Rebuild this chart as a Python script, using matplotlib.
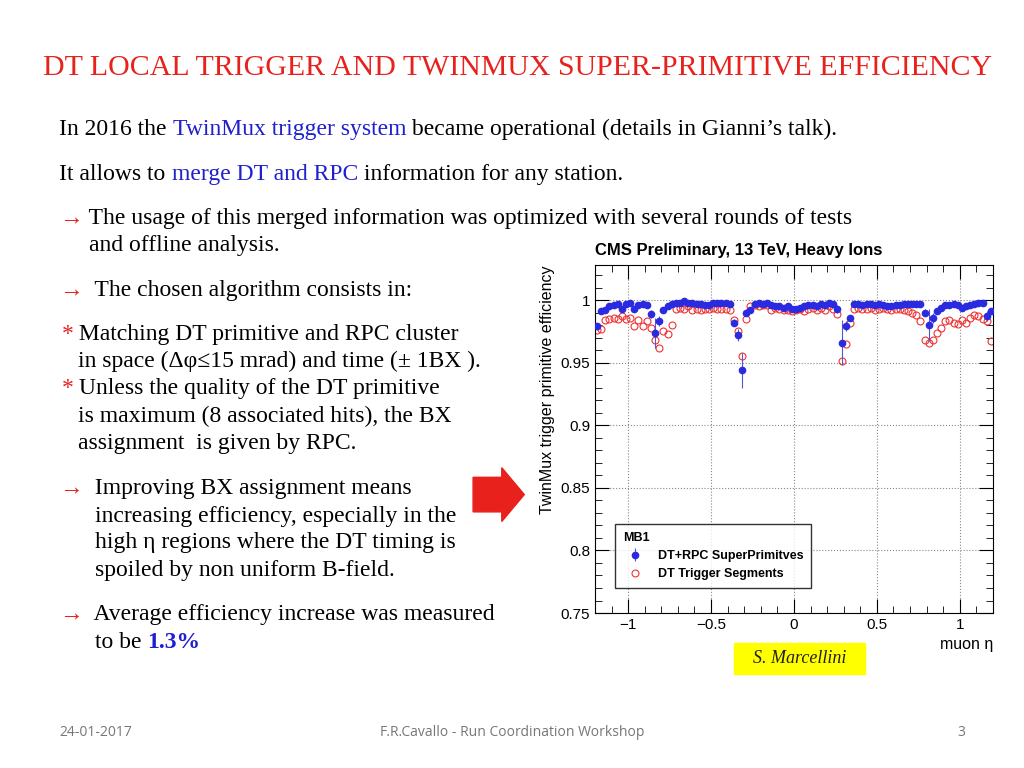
import matplotlib
matplotlib.use("Agg")
import matplotlib.pyplot as plt
from matplotlib.patches import FancyArrow, Rectangle
from matplotlib.ticker import MultipleLocator, FixedLocator
from matplotlib.offsetbox import TextArea, HPacker, AnchoredOffsetbox

eta = [-1.1875,-1.1625,-1.1375,-1.1125,-1.0875,-1.0625,-1.0375,-1.0125,-0.9875,-0.9625,
       -0.9375,-0.9125,-0.8875,-0.8625,-0.8375,-0.8125,-0.7875,-0.7625,-0.7375,-0.7125,
       -0.6875,-0.6625,-0.6375,-0.6125,-0.5875,-0.5625,-0.5375,-0.5125,-0.4875,-0.4625,
       -0.4375,-0.4125,-0.3875,-0.3625,-0.3375,-0.3125,-0.2875,-0.2625,-0.2375,-0.2125,
       -0.1875,-0.1625,-0.1375,-0.1125,-0.0875,-0.0625,-0.0375,-0.0125,0.0125,0.0375,
       0.0625,0.0875,0.1125,0.1375,0.1625,0.1875,0.2125,0.2375,0.2625,0.2875,
       0.3125,0.3375,0.3625,0.3875,0.4125,0.4375,0.4625,0.4875,0.5125,0.5375,
       0.5625,0.5875,0.6125,0.6375,0.6625,0.6875,0.7125,0.7375,0.7625,0.7875,
       0.8125,0.8375,0.8625,0.8875,0.9125,0.9375,0.9625,0.9875,1.0125,1.0375,
       1.0625,1.0875,1.1125,1.1375,1.1625,1.1875]

dtrpc = [0.979,0.991,0.992,0.995,0.996,0.997,0.993,0.997,0.998,0.993,
         0.996,0.997,0.996,0.989,0.974,0.983,0.992,0.995,0.997,0.998,
         0.998,0.999,0.998,0.998,0.997,0.997,0.996,0.996,0.998,0.998,
         0.998,0.998,0.997,0.982,0.972,0.944,0.990,0.992,0.997,0.998,
         0.997,0.998,0.996,0.995,0.995,0.994,0.995,0.993,0.993,0.994,
         0.995,0.996,0.996,0.995,0.997,0.996,0.998,0.997,0.993,0.966,
         0.979,0.986,0.997,0.997,0.996,0.997,0.997,0.996,0.997,0.996,
         0.995,0.995,0.996,0.996,0.997,0.997,0.997,0.997,0.997,0.990,
         0.980,0.986,0.991,0.994,0.996,0.996,0.997,0.996,0.994,0.995,
         0.996,0.997,0.998,0.998,0.987,0.991]
dtrpc_err = [0.003,0,0,0,0,0,0,0,0,0, 0,0,0,0.003,0.012,0.004,0,0,0,0,
             0,0,0,0,0,0,0,0,0,0, 0,0,0,0.003,0.005,0.014,0.003,0,0,0,
             0,0,0,0,0,0,0,0,0,0, 0,0,0,0,0,0,0,0,0.003,0.018,
             0.004,0.002,0,0,0,0,0,0,0,0, 0,0,0,0,0,0,0,0,0,0.003,
             0.013,0.004,0,0,0,0,0,0,0,0, 0,0,0,0,0.004,0.002]

dtseg = [0.976,0.977,0.984,0.985,0.986,0.985,0.987,0.985,0.986,0.979,
         0.984,0.979,0.983,0.978,0.968,0.962,0.975,0.973,0.980,0.993,
         0.994,0.993,0.995,0.992,0.993,0.992,0.993,0.993,0.994,0.993,
         0.993,0.993,0.992,0.984,0.975,0.955,0.985,0.995,0.996,0.995,
         0.996,0.996,0.992,0.994,0.993,0.992,0.992,0.991,0.992,0.993,
         0.991,0.993,0.994,0.992,0.994,0.992,0.995,0.993,0.989,0.951,
         0.965,0.982,0.993,0.994,0.993,0.993,0.994,0.992,0.993,0.994,
         0.993,0.992,0.993,0.993,0.992,0.991,0.990,0.988,0.983,0.968,
         0.966,0.968,0.974,0.978,0.983,0.984,0.982,0.981,0.984,0.982,
         0.986,0.988,0.987,0.985,0.983,0.967]

yticks = [0.75, 0.8, 0.85, 0.9, 0.95, 1.0]
yticklabels = ["0.75", "0.8", "0.85", "0.9", "0.95", "1"]
xticks = [-1, -0.5, 0, 0.5, 1]
xticklabels = ["\u22121", "\u22120.5", "0", "0.5", "1"]

fig = plt.figure(figsize=(10.24, 7.68), dpi=100)
serif = "Liberation Serif"
sans = "Liberation Sans"
red = "#e8211d"
blue = "#2a2ae0"

fig.text(0.505, 0.912, "DT LOCAL TRIGGER AND TWINMUX SUPER-PRIMITIVE EFFICIENCY",
         ha="center", va="center", color=red, fontsize=21.5, family=serif)

FS = 17
def rich(x, y, parts, fs=FS):
    boxes = [TextArea(t, textprops=dict(color=c, fontsize=fs, family=serif, weight=w))
             for t, c, w in parts]
    pk = HPacker(children=boxes, pad=0, sep=0, align="baseline")
    ab = AnchoredOffsetbox(loc="center left", child=pk, pad=0, frameon=False,
                           bbox_to_anchor=(x, y), bbox_transform=fig.transFigure, borderpad=0)
    fig.add_artist(ab)

k = "black"; b = "#1f1fd0"
rich(0.058, 0.831, [("In 2016 the ", k, "normal"), ("TwinMux trigger system", b, "normal"),
                    (" became operational (details in Gianni\u2019s talk).", k, "normal")])
rich(0.058, 0.773, [("It allows to ", k, "normal"), ("merge DT and RPC", b, "normal"),
                    (" information for any station.", k, "normal")])
rich(0.058, 0.716, [("\u2192", red, "normal"), (" The usage of this merged information was optimized with several rounds of tests", k, "normal")])
rich(0.087, 0.680, [("and offline analysis.", k, "normal")])
rich(0.058, 0.622, [("\u2192", red, "normal"), ("  The chosen algorithm consists in:", k, "normal")])
rich(0.060, 0.565, [("*", red, "normal"), (" Matching DT primitive and RPC cluster", k, "normal")])
rich(0.076, 0.530, [("in space (\u0394\u03c6\u226415 mrad) and time (\u00b1 1BX ).", k, "normal")])
rich(0.060, 0.494, [("*", red, "normal"), (" Unless the quality of the DT primitive", k, "normal")])
rich(0.076, 0.458, [("is maximum (8 associated hits), the BX", k, "normal")])
rich(0.076, 0.422, [("assignment  is given by RPC.", k, "normal")])
rich(0.058, 0.364, [("\u2192", red, "normal"), ("  Improving BX assignment means", k, "normal")])
rich(0.093, 0.328, [("increasing efficiency, especially in the", k, "normal")])
rich(0.093, 0.293, [("high \u03b7 regions where the DT timing is", k, "normal")])
rich(0.093, 0.257, [("spoiled by non uniform B-field.", k, "normal")])
rich(0.058, 0.200, [("\u2192", red, "normal"), ("  Average efficiency increase was measured", k, "normal")])
rich(0.093, 0.164, [("to be ", k, "normal"), ("1.3%", b, "bold")])

fig.text(0.058, 0.046, "24-01-2017", fontsize=10, color="#777777", family="Open Sans", va="center")
fig.text(0.5, 0.046, "F.R.Cavallo - Run Coordination Workshop", fontsize=10, color="#777777",
         family="Open Sans", va="center", ha="center")
fig.text(0.935, 0.046, "3", fontsize=10, color="#777777", family="Open Sans", va="center")

fig.add_artist(FancyArrow(0.462, 0.356, 0.028, 0, width=0.045, head_width=0.07,
                          head_length=0.022, color=red, transform=fig.transFigure))

fig.add_artist(Rectangle((0.717, 0.122), 0.128, 0.041, color="#ffff00", transform=fig.transFigure))
fig.text(0.781, 0.143, "S. Marcellini", fontsize=13, style="italic", family=serif,
         ha="center", va="center", color="#202020")

ax = fig.add_axes([0.581, 0.2018, 0.3887, 0.453])
ax.errorbar(eta, dtrpc, yerr=dtrpc_err, fmt="o", color=blue, ms=4.5, ecolor="#5555cc",
            elinewidth=0.8, capsize=0, label="DT+RPC SuperPrimitves", zorder=3)
ax.plot(eta, dtseg, "o", mfc="none", mec="#ee3333", ms=5, mew=0.8,
        label="DT Trigger Segments", zorder=2)
ax.set_xlim(-1.2, 1.2)
ax.set_ylim(0.75, 1.028)
ax.yaxis.set_major_locator(FixedLocator(yticks))
ax.set_yticklabels(yticklabels)
ax.xaxis.set_major_locator(FixedLocator(xticks))
ax.set_xticklabels(xticklabels)
ax.xaxis.set_minor_locator(MultipleLocator(0.1))
ax.yaxis.set_minor_locator(MultipleLocator(0.01))
ax.tick_params(which="both", direction="in", top=True, right=True, labelsize=11)
ax.tick_params(which="major", length=10)
ax.tick_params(which="minor", length=5)
for lab in ax.get_xticklabels() + ax.get_yticklabels():
    lab.set_family(sans)
ax.grid(True, which="major", linestyle=":", color="#888888", linewidth=0.8)
ax.set_ylabel("TwinMux trigger primitive efficiency", fontsize=11.5, family=sans, loc="top")
ax.set_xlabel("muon \u03b7", fontsize=11.5, family=sans, loc="right")
ax.text(0.0, 1.02, "CMS Preliminary, 13 TeV, Heavy Ions", transform=ax.transAxes,
        fontsize=12, weight="bold", family=sans, ha="left", va="bottom")
handles, labels = ax.get_legend_handles_labels()
order = [labels.index("DT+RPC SuperPrimitves"), labels.index("DT Trigger Segments")]
leg = ax.legend([handles[i] for i in order], [labels[i] for i in order],
                loc="lower left", bbox_to_anchor=(0.035, 0.055), title="MB1",
                prop=dict(family=sans, size=9, weight="bold"), frameon=True,
                fancybox=False, edgecolor="black", alignment="left", borderpad=0.6)
leg.get_title().set_fontweight("bold")
leg.get_title().set_family(sans)
leg.get_title().set_fontsize(9)

fig.savefig("out.png", dpi=100)
